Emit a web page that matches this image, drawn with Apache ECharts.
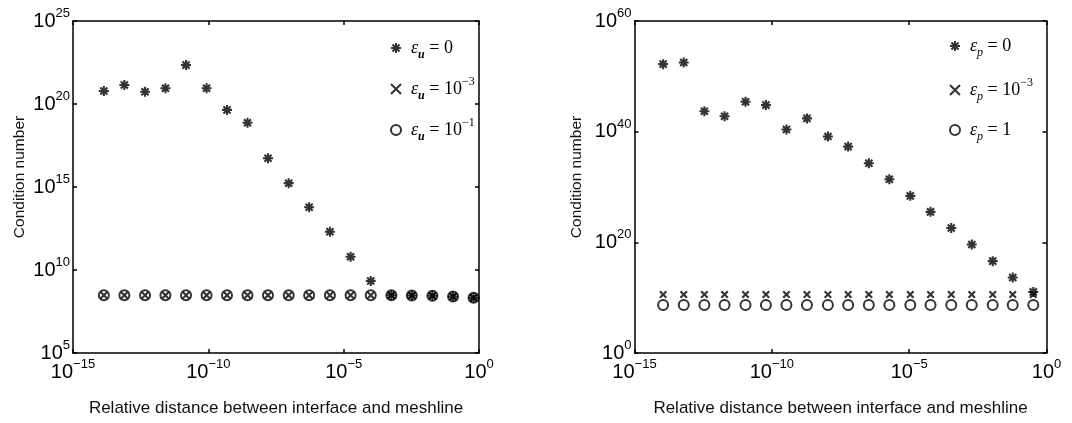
<!DOCTYPE html>
<html><head><meta charset="utf-8">
<script src="https://cdn.jsdelivr.net/npm/echarts@6/dist/echarts.min.js"></script>
<style>html,body{margin:0;padding:0;background:#fff}#c{width:1072px;height:423px}</style>
</head><body><div id="c"></div>
<script>
// ---- data ----
const xLeft = [1.38e-14, 7.9e-14, 4.6e-13, 2.6e-12, 1.5e-11, 8.6e-11, 4.9e-10, 2.8e-9, 1.6e-8, 9.3e-8, 5.3e-7, 3.1e-6, 1.8e-5, 1.0e-4, 5.8e-4, 3.3e-3, 1.9e-2, 0.11, 0.63];
const leftEpsU0 = [6.0e20, 1.4e21, 5.5e20, 8.9e20, 2.2e22, 8.9e20, 4.4e19, 7.4e18, 5.4e16, 1.7e15, 6.0e13, 2.0e12, 6.3e10, 2.2e9, 3.0e8, 2.9e8, 2.8e8, 2.5e8, 2.1e8];
const leftEpsU1e3 = [3.0e8, 3.0e8, 3.0e8, 3.0e8, 3.0e8, 3.0e8, 3.0e8, 3.0e8, 3.0e8, 3.0e8, 3.0e8, 3.0e8, 3.0e8, 3.0e8, 3.0e8, 2.9e8, 2.8e8, 2.5e8, 2.1e8];
const leftEpsU1e1 = [3.0e8, 3.0e8, 3.0e8, 3.0e8, 3.0e8, 3.0e8, 3.0e8, 3.0e8, 3.0e8, 3.0e8, 3.0e8, 3.0e8, 3.0e8, 3.0e8, 3.0e8, 2.9e8, 2.8e8, 2.5e8, 2.1e8];

const xRight = [1.1e-14, 6.2e-14, 3.5e-13, 1.9e-12, 1.1e-11, 6.1e-11, 3.4e-10, 1.9e-9, 1.1e-8, 6.0e-8, 3.4e-7, 1.9e-6, 1.1e-5, 6.0e-5, 3.4e-4, 1.9e-3, 1.1e-2, 5.9e-2, 0.33];
const rightEpsP0 = [1.6e52, 3.2e52, 5.0e43, 6.3e42, 2.5e45, 6.3e44, 2.5e40, 2.5e42, 1.3e39, 2.0e37, 2.0e34, 2.5e31, 2.5e28, 3.2e25, 4.0e22, 4.0e19, 4.0e16, 4.5e13, 1.1e11];
const rightEpsP1e3 = [3.7e10, 3.7e10, 3.7e10, 3.7e10, 3.7e10, 3.7e10, 3.7e10, 3.7e10, 3.7e10, 3.7e10, 3.7e10, 3.7e10, 3.7e10, 3.7e10, 3.7e10, 3.7e10, 3.7e10, 3.7e10, 3.7e10];
const rightEpsP1 = [4.7e8, 4.7e8, 4.7e8, 4.7e8, 4.7e8, 4.7e8, 4.7e8, 4.7e8, 4.7e8, 4.7e8, 4.7e8, 4.7e8, 4.7e8, 4.7e8, 4.7e8, 4.7e8, 4.7e8, 4.7e8, 4.7e8];

const xRange = [1e-15, 1];
const yRangeLeft = [1e5, 1e25];
const yRangeRight = [1, 1e60];
const xLabel = 'Relative distance between interface and meshline';
const yLabel = 'Condition number';
const leftNames = ['εu0', 'εu1e-3', 'εu1e-1'];
const rightNames = ['εp0', 'εp1e-3', 'εp1'];
const legendTexts = {
  'εu0': '{e|ε}{su|u}{t| = 0}',
  'εu1e-3': '{e|ε}{su|u}{t| = 10}{sup|−3}',
  'εu1e-1': '{e|ε}{su|u}{t| = 10}{sup|−1}',
  'εp0': '{e|ε}{sp|p}{t| = 0}',
  'εp1e-3': '{e|ε}{sp|p}{t| = 10}{sup|−3}',
  'εp1': '{e|ε}{sp|p}{t| = 1}'
};

// ---- styling ----
const SANS = 'Liberation Sans';
const SERIF = 'Liberation Serif';
const STAR = 'path://M0,-5L0,5M-5,0L5,0M-3.54,-3.54L3.54,3.54M-3.54,3.54L3.54,-3.54';
const CROSS = 'path://M-1,-1L1,1M-1,1L1,-1';
const markerStyles = [
  {symbol: STAR, symbolSize: 10, itemStyle: {color: '#000', borderColor: '#000', borderWidth: 2.1}},
  {symbol: CROSS, symbolSize: 6.5, itemStyle: {color: '#000', borderColor: '#000', borderWidth: 2.1}},
  {symbol: 'circle', symbolSize: 10, itemStyle: {color: 'rgba(0,0,0,0)', borderColor: '#000', borderWidth: 2}}
];

const tickRich = {
  b: {fontFamily: SANS, fontSize: 20, lineHeight: 28, verticalAlign: 'middle', color: '#000'},
  s: {fontFamily: SANS, fontSize: 13, lineHeight: 10, verticalAlign: 'top', color: '#000'}
};
function powLabel(v) {
  const e = Math.round(Math.log10(v));
  return '{b|10}{s|' + String(e).replace('-', '−') + '}';
}
const legendRich = {
  e: {fontFamily: SERIF, fontStyle: 'italic', fontSize: 18, lineHeight: 26, verticalAlign: 'middle', color: '#000', padding: [0, 0, 0, 5]},
  su: {fontFamily: SERIF, fontStyle: 'italic', fontWeight: 'bold', fontSize: 12, lineHeight: 16, verticalAlign: 'bottom', color: '#000'},
  sp: {fontFamily: SERIF, fontStyle: 'italic', fontSize: 12, lineHeight: 16, verticalAlign: 'bottom', color: '#000'},
  t: {fontFamily: SERIF, fontSize: 18, lineHeight: 26, verticalAlign: 'middle', color: '#000'},
  sup: {fontFamily: SERIF, fontSize: 12, lineHeight: 12, verticalAlign: 'top', color: '#000'}
};

const lineStyle = {color: '#000', width: 1.5};
function xAxes(gi, range) {
  return [
    {gridIndex: gi, type: 'log', logBase: 10, min: range[0], max: range[1], interval: 5, position: 'bottom',
     axisLine: {show: true, lineStyle}, axisTick: {show: true, inside: true, length: 4, lineStyle},
     axisLabel: {formatter: powLabel, rich: tickRich, margin: 5},
     splitLine: {show: false}, minorTick: {show: false},
     name: xLabel, nameLocation: 'middle', nameGap: 47,
     nameTextStyle: {fontFamily: SANS, fontSize: 17, color: '#111'}},
    {gridIndex: gi, type: 'log', logBase: 10, min: range[0], max: range[1], interval: 5, position: 'top',
     axisLine: {show: true, lineStyle}, axisTick: {show: true, inside: true, length: 4, lineStyle},
     axisLabel: {show: false}, splitLine: {show: false}}
  ];
}
function yAxes(gi, range, interval, gap) {
  return [
    {gridIndex: gi, type: 'log', logBase: 10, min: range[0], max: range[1], interval, position: 'left',
     axisLine: {show: true, lineStyle}, axisTick: {show: true, inside: true, length: 4, lineStyle},
     axisLabel: {formatter: powLabel, rich: tickRich, margin: 3},
     splitLine: {show: false}, minorTick: {show: false},
     name: yLabel, nameLocation: 'middle', nameGap: gap,
     nameTextStyle: {fontFamily: SANS, fontSize: 15.5, color: '#111', padding: [0, 0, 0, 20]}},
    {gridIndex: gi, type: 'log', logBase: 10, min: range[0], max: range[1], interval, position: 'right',
     axisLine: {show: true, lineStyle}, axisTick: {show: true, inside: true, length: 4, lineStyle},
     axisLabel: {show: false}, splitLine: {show: false}}
  ];
}
function makeSeries(names, xs, ysList, xi, yi) {
  return names.map((n, k) => Object.assign({
    name: n, type: 'scatter', xAxisIndex: xi, yAxisIndex: yi,
    data: xs.map((x, i) => [x, ysList[k][i]]),
    z: 2 + k
  }, markerStyles[k]));
}

const chart = echarts.init(document.getElementById('c'), null, {renderer: 'canvas'});
chart.setOption({
  backgroundColor: '#fff',
  animation: false,
  grid: [
    {left: 73, top: 21, width: 406, height: 332},
    {left: 634.5, top: 21, width: 412, height: 332}
  ],
  xAxis: [...xAxes(0, xRange), ...xAxes(1, xRange)],
  yAxis: [...yAxes(0, yRangeLeft, 5, 45), ...yAxes(1, yRangeRight, 20, 50)],
  legend: [
    {data: leftNames, orient: 'vertical', left: 385, top: 34, itemWidth: 10, itemHeight: 10, itemGap: 15,
     itemStyle: {borderWidth: 2},
     formatter: n => legendTexts[n], textStyle: {rich: legendRich}},
    {data: rightNames, orient: 'vertical', left: 944, top: 32, itemWidth: 10, itemHeight: 10, itemGap: 18,
     itemStyle: {borderWidth: 2},
     formatter: n => legendTexts[n], textStyle: {rich: legendRich}}
  ],
  series: [
    ...makeSeries(leftNames, xLeft, [leftEpsU0, leftEpsU1e3, leftEpsU1e1], 0, 0),
    ...makeSeries(rightNames, xRight, [rightEpsP0, rightEpsP1e3, rightEpsP1], 2, 2)
  ]
});
</script></body></html>
